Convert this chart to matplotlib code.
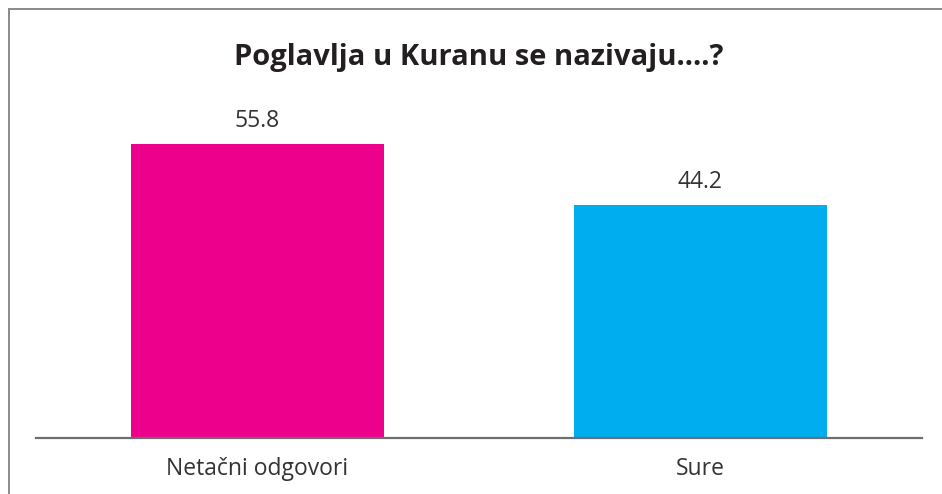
import matplotlib
matplotlib.use("Agg")
import matplotlib.pyplot as plt
from matplotlib.patches import Rectangle

categories = ["Netačni odgovori", "Sure"]
values = [55.8, 44.2]
colors = ["#EC008C", "#00ADEF"]
title = "Poglavlja u Kuranu se nazivaju....?"

plt.rcParams["font.family"] = ["Open Sans", "DejaVu Sans"]

W, H = 942, 494
fig = plt.figure(figsize=(W / 100, H / 100), dpi=100)
ax = fig.add_axes([36 / W, 1 - 437.5 / H, (922 - 36) / W, (437.5 - 122) / H])

x = list(range(len(categories)))
bars = ax.bar(x, values, width=0.573, color=colors, zorder=2)
ax.set_xlim(-0.5, len(categories) - 0.5)
ax.set_ylim(0, 60)

for b, v in zip(bars, values):
    ax.annotate(f"{v:.1f}", (b.get_x() + b.get_width() / 2, v),
                xytext=(0, 8), textcoords="offset points",
                ha="center", va="bottom", fontsize=16.5, color="#333333")

for s in ["top", "right", "left"]:
    ax.spines[s].set_visible(False)
ax.spines["bottom"].set_color("#6d6e71")
ax.spines["bottom"].set_linewidth(1.6)
ax.set_yticks([])
ax.set_xticks(x)
ax.set_xticklabels(categories, fontsize=16.5, color="#333333")
ax.tick_params(axis="x", length=0, pad=14)

fig.text((36 + 922) / 2 / W, 1 - 57 / H, title, ha="center", va="center",
         fontsize=21, fontweight="bold", color="#231f20")

# outer frame, open on the right and bottom
fig.add_artist(Rectangle((8.5 / W, -0.1), 1.2, 1.1 - 9.5 / H,
                         transform=fig.transFigure, fill=False,
                         edgecolor="#8a8a8a", linewidth=1.4))

fig.savefig("out.png", dpi=100, facecolor="white")
